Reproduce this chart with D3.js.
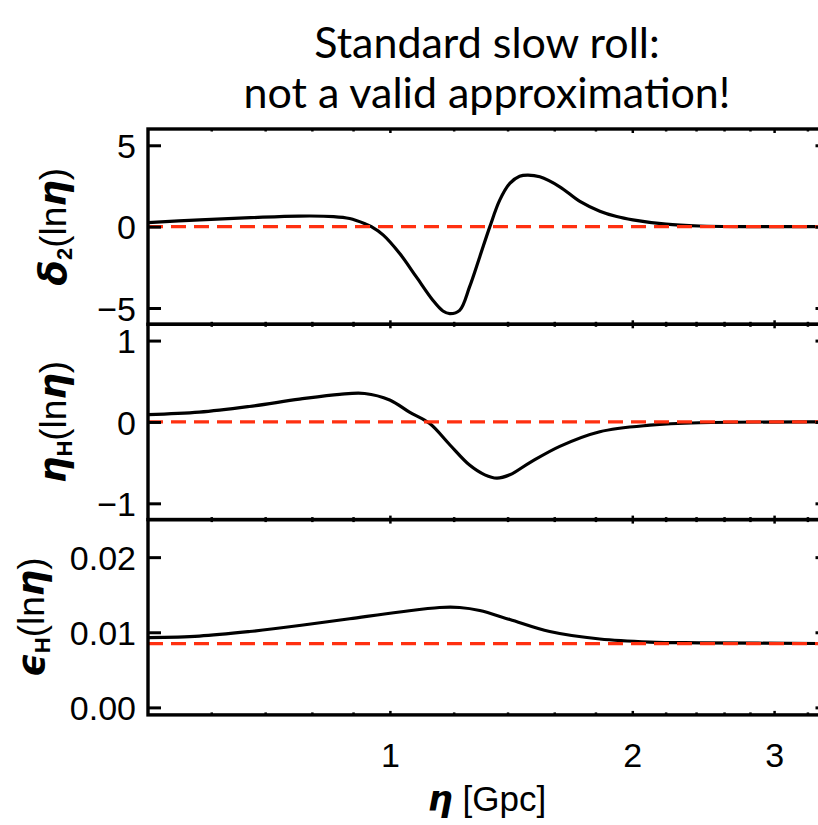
<!DOCTYPE html>
<html>
<head>
<meta charset="utf-8">
<script src="https://cdn.jsdelivr.net/npm/d3@7"></script>
<style>
  body { margin: 0; background: #fff; }
  svg text { font-family: "Liberation Sans", Arial, sans-serif; fill: #000; }
</style>
</head>
<body>
<div id="chart"></div>
<script>
// x axis (eta, Gpc), log scale
const etaMajor = [1, 2, 3];
const etaMinor = [0.6, 0.7, 0.8, 0.9, 1.2, 1.4, 1.6, 1.8, 2.2, 2.4, 2.6, 2.8, 3.3];

// delta_2(ln eta)
const delta2Eta = [0.5, 0.58, 0.67, 0.77, 0.85, 0.89, 0.93, 0.947, 0.98, 1.027, 1.077, 1.129, 1.162, 1.185,
  1.219, 1.254, 1.291, 1.329, 1.367, 1.407, 1.447, 1.482, 1.533, 1.623, 1.719, 1.82, 1.91, 2.0, 2.2, 2.42, 2.8, 3.5];
const delta2Values = [0.25, 0.42, 0.55, 0.65, 0.62, 0.5, 0.18, 0, -0.52, -1.65, -3.09, -4.52, -5.18, -5.34,
  -5.14, -3.7, -1.86, 0, 1.63, 2.66, 3.1, 3.17, 3.06, 2.45, 1.55, 0.95, 0.62, 0.42, 0.15, 0.04, 0, 0];

// eta_H(ln eta)
const etaHEta = [0.5, 0.579, 0.668, 0.771, 0.865, 0.929, 0.998, 1.056, 1.119, 1.185, 1.254, 1.31, 1.356,
  1.407, 1.49, 1.623, 1.82, 2.1, 2.42, 3.5];
const etaHValues = [0.09, 0.12, 0.19, 0.28, 0.34, 0.35, 0.27, 0.12, -0.02, -0.28, -0.53, -0.65, -0.69,
  -0.65, -0.5, -0.3, -0.12, -0.04, -0.01, 0];

// epsilon_H(ln eta)
const epsEta = [0.5, 0.579, 0.668, 0.771, 0.89, 1.027, 1.151, 1.219, 1.291, 1.407, 1.577, 1.82, 2.1, 2.42, 3.5];
const epsValues = [0.0093, 0.0095, 0.0101, 0.0109, 0.0118, 0.0127, 0.0133, 0.0133, 0.0129, 0.0117, 0.0101,
  0.0091, 0.0087, 0.0086, 0.0085];

// slow-roll reference levels (red dashed)
const slowRollLevels = [0, 0, 0.0085];

const panels = [
  { eta: delta2Eta, values: delta2Values, level: slowRollLevels[0], domain: [-6, 6], ticks: [-5, 0, 5], fmt: d3.format('d'), label: 'delta', labelX: 66 },
  { eta: etaHEta, values: etaHValues, level: slowRollLevels[1], domain: [-1.2, 1.2], ticks: [-1, 0, 1], fmt: d3.format('d'), label: 'etaH', labelX: 66 },
  { eta: epsEta, values: epsValues, level: slowRollLevels[2], domain: [-0.001, 0.025], ticks: [0, 0.01, 0.02], fmt: d3.format('.2f'), label: 'epsH', labelX: 44 }
];

const width = 818;
const height = 825;
const plotLeft = 148;
const plotRight = 828.5;
const plotTop = 129;
const panelH = 195.3;

const svg = d3.select('#chart').append('svg')
  .attr('width', width)
  .attr('height', height);

const x = d3.scaleLog().domain([0.5, 3.5]).range([plotLeft, plotRight]);

// title
const title = svg.append('text')
  .attr('text-anchor', 'middle')
  .style('font-family', 'Lato, "Open Sans", sans-serif')
  .style('font-size', '43px');
title.append('tspan').attr('x', 487).attr('y', 58).text('Standard slow roll:');
title.append('tspan').attr('x', 487).attr('y', 108).text('not a valid approximation!');

panels.forEach((p, i) => {
  const y0 = plotTop + i * panelH;
  const y = d3.scaleLinear().domain(p.domain).range([y0 + panelH, y0]);
  const g = svg.append('g');

  const line = d3.line()
    .x((d, j) => x(p.eta[j]))
    .y(d => y(d))
    .curve(d3.curveCatmullRom);

  g.append('path')
    .datum(p.values)
    .attr('d', line)
    .attr('fill', 'none')
    .attr('stroke', '#000')
    .attr('stroke-width', 3.2);

  g.append('line')
    .attr('x1', plotLeft).attr('x2', plotRight)
    .attr('y1', y(p.level)).attr('y2', y(p.level))
    .attr('stroke', '#ff3010')
    .attr('stroke-width', 3.2)
    .attr('stroke-dasharray', '15 8');

  // y axes, ticks pointing inward
  const yLeft = g.append('g')
    .attr('transform', `translate(${plotLeft},0)`)
    .call(d3.axisLeft(y).tickValues(p.ticks).tickFormat(p.fmt).tickSize(-13).tickPadding(12));
  const yRight = g.append('g')
    .attr('transform', `translate(${plotRight},0)`)
    .call(d3.axisRight(y).tickValues(p.ticks).tickFormat('').tickSize(-13));

  [yLeft, yRight].forEach(a => {
    a.select('.domain').remove();
    a.selectAll('line').attr('stroke', '#000').attr('stroke-width', 3);
  });
  yLeft.selectAll('text').style('font-size', '34px').attr('dy', '0.36em');

  // x ticks on top and bottom of each panel
  [[y0, 1], [y0 + panelH, -1]].forEach(([yy, dir]) => {
    g.selectAll(null)
      .data(etaMajor.concat(etaMinor))
      .enter().append('line')
      .attr('x1', d => x(d)).attr('x2', d => x(d))
      .attr('y1', yy)
      .attr('y2', d => yy + dir * (etaMajor.includes(d) ? 4 : 2.5))
      .attr('stroke', '#000')
      .attr('stroke-width', 2.5);
  });

  g.append('rect')
    .attr('x', plotLeft).attr('y', y0)
    .attr('width', plotRight - plotLeft).attr('height', panelH)
    .attr('fill', 'none')
    .attr('stroke', '#000')
    .attr('stroke-width', 3.4);

  // rotated y label
  const lab = svg.append('text')
    .attr('transform', `translate(${p.labelX},${y0 + panelH / 2}) rotate(-90)`)
    .attr('text-anchor', 'middle')
    .style('font-size', '37px');
  const greek = { delta: 'δ', etaH: 'η', epsH: 'ϵ' }[p.label];
  const sub = p.label === 'delta' ? '2' : 'H';
  lab.append('tspan').text(greek)
    .style('font-family', '"DejaVu Sans", sans-serif')
    .style('font-weight', 'bold')
    .style('font-style', 'italic');
  lab.append('tspan').text(sub)
    .attr('baseline-shift', '-25%')
    .style('font-size', '22px')
    .style('font-weight', 'bold');
  lab.append('tspan').text('(ln');
  lab.append('tspan').text('η')
    .style('font-family', '"DejaVu Sans", sans-serif')
    .style('font-weight', 'bold')
    .style('font-style', 'italic');
  lab.append('tspan').text(')');
});

// x tick labels and title
const plotBottom = plotTop + 3 * panelH;
svg.append('g')
  .selectAll('text')
  .data(etaMajor)
  .enter().append('text')
  .attr('x', d => x(d))
  .attr('y', plotBottom + 52)
  .attr('text-anchor', 'middle')
  .style('font-size', '34px')
  .text(d => d);

const xt = svg.append('text')
  .attr('x', 487)
  .attr('y', plotBottom + 96)
  .attr('text-anchor', 'middle')
  .style('font-size', '35px');
xt.append('tspan').text('η')
  .style('font-family', '"DejaVu Sans", sans-serif')
  .style('font-weight', 'bold')
  .style('font-style', 'italic');
xt.append('tspan').text(' [Gpc]');
</script>
</body>
</html>
